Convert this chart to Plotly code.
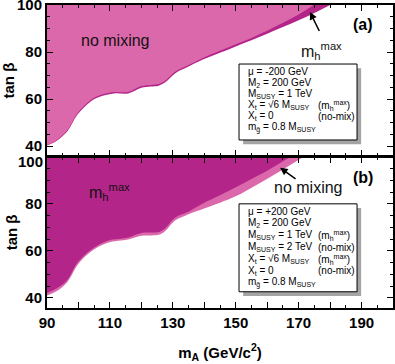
import plotly.graph_objects as go

# m_A (GeV) vs tan(beta) exclusion boundaries
# panel (a): mu = -200 GeV
a_nomix_mA = [90, 93, 96.5, 99.7, 103.9, 107, 111.3, 115.8, 120, 123, 125.5, 127.5,
              130.6, 135, 139.4, 145, 150, 155, 160, 165, 170, 174.8]
a_nomix_tb = [40.4, 42.5, 46.8, 54, 59.6, 61.7, 63, 63, 65.5, 66, 66.4, 67.7,
              71.5, 74.5, 77.4, 80.5, 83.3, 86, 89, 92.4, 96, 100]
a_mhmax_mA = [90, 93, 96.5, 99.7, 103.9, 107, 111.3, 115.8, 120, 123, 125.5, 127.5,
              130.6, 135, 139.4, 145, 150, 155, 160, 165, 170, 175, 180]
a_mhmax_tb = [40.2, 42.2, 46.3, 53.4, 59, 61.1, 62.4, 62.4, 64.8, 65.3, 65.7, 67,
              70.8, 73.8, 76.7, 79.7, 82.4, 85, 87.8, 90.6, 93.5, 96.6, 100]

# panel (b): mu = +200 GeV
b_mhmax_mA = [90, 93, 96.5, 99.7, 103.9, 109.3, 115.8, 120, 125.5, 127.5, 130.6,
              135, 139.4, 145, 150, 155, 160, 167.4]
b_mhmax_tb = [42.1, 44, 47.7, 55, 60.4, 64.3, 65.7, 67.6, 68, 69.5, 74,
              76.6, 80, 83.6, 87, 90.6, 94.1, 100]
b_nomix_mA = [90, 93, 96.5, 99.7, 103.9, 109.3, 115.8, 120, 125.5, 127.5, 130.6,
              135, 138.7, 145, 150, 157.7, 165, 171.6]
b_nomix_tb = [41, 42.8, 46.8, 54, 59.6, 63.4, 64.8, 66.4, 66.8, 68.3, 72.8,
              75.6, 77.4, 80.5, 83.2, 88.9, 94.6, 100]

x_ticks = list(range(90, 201, 10))
x_ticktext = [str(v) if (v - 90) % 20 == 0 and v < 200 else "" for v in x_ticks]
y_ticks = [40, 60, 80, 100]

box_a = ["μ = -200 GeV",
         "M<sub>2</sub> = 200 GeV",
         "M<sub>SUSY</sub> = 1 TeV",
         "X<sub>t</sub> = √6 M<sub>SUSY</sub>",
         "X<sub>t</sub> = 0",
         "m<sub>g̃</sub> = 0.8 M<sub>SUSY</sub>"]
box_a_right = ["", "", "", "(m<sub>h</sub><sup>max</sup>)", "(no-mix)", ""]
box_b = ["μ = +200 GeV",
         "M<sub>2</sub> = 200 GeV",
         "M<sub>SUSY</sub> = 1 TeV",
         "M<sub>SUSY</sub> = 2 TeV",
         "X<sub>t</sub> = √6 M<sub>SUSY</sub>",
         "X<sub>t</sub> = 0",
         "m<sub>g̃</sub> = 0.8 M<sub>SUSY</sub>"]
box_b_right = ["", "", "(m<sub>h</sub><sup>max</sup>)", "(no-mix)",
               "(m<sub>h</sub><sup>max</sup>)", "(no-mix)", ""]

LIGHT = "#DB68AA"
DARK = "#B4258A"
FONT = "Arial, Liberation Sans, sans-serif"
TOP = 100


def region(mA, tb, color, xa, ya):
    # area between the boundary (smoothed) and the top of the plot
    top = go.Scatter(x=[mA[0], mA[-1]], y=[TOP, TOP], mode="lines",
                     line=dict(width=0), hoverinfo="skip", showlegend=False,
                     xaxis=xa, yaxis=ya)
    edge = go.Scatter(x=mA, y=tb, mode="lines", fill="tonexty", fillcolor=color,
                      line=dict(width=0, shape="spline", smoothing=1),
                      hoverinfo="skip", showlegend=False, xaxis=xa, yaxis=ya)
    return [top, edge]


fig = go.Figure()
# panel a: m_h^max underneath, no-mixing on top
fig.add_traces(region(a_mhmax_mA, a_mhmax_tb, DARK, "x2", "y2"))
fig.add_traces(region(a_nomix_mA, a_nomix_tb, LIGHT, "x2", "y2"))
# panel b: no-mixing underneath, m_h^max on top
fig.add_traces(region(b_nomix_mA, b_nomix_tb, LIGHT, "x", "y"))
fig.add_traces(region(b_mhmax_mA, b_mhmax_tb, DARK, "x", "y"))

tickfont = dict(family=FONT, size=15, color="black", weight="bold")
xcommon = dict(range=[90, 200], tickvals=x_ticks, ticktext=x_ticktext,
               ticks="inside", ticklen=6, tickwidth=1, tickcolor="black",
               showline=True, linewidth=2, linecolor="black", mirror="ticks",
               minor=dict(tick0=90, dtick=5, ticks="inside", ticklen=3, tickcolor="black"),
               showgrid=False, zeroline=False, automargin=False, tickfont=tickfont)
ycommon = dict(range=[35.7, 100], tickvals=y_ticks,
               ticks="inside", ticklen=6, tickwidth=1, tickcolor="black",
               showline=True, linewidth=2, linecolor="black", mirror="ticks",
               minor=dict(tick0=40, dtick=5, ticks="inside", ticklen=3, tickcolor="black"),
               showgrid=False, zeroline=False, automargin=False, tickfont=tickfont,
               ticklabeloverflow="allow",
               title=dict(text="<b>tan β</b>", font=dict(family=FONT, size=15, color="black"),
                          standoff=4))

fig.update_layout(
    width=395, height=364,
    margin=dict(l=47, r=2, t=5, b=56),
    plot_bgcolor="white", paper_bgcolor="white",
    xaxis=dict(xcommon, anchor="y",
               title=dict(text="<b>m<sub>A</sub> (GeV/c<sup>2</sup>)</b>",
                          font=dict(family=FONT, size=15, color="black"), standoff=17)),
    xaxis2=dict(xcommon, anchor="y2", matches="x", showticklabels=False),
    # lower panel: the "100" label is drawn a little lower (see annotation below)
    yaxis=dict(ycommon, domain=[0, 0.499], anchor="x",
               ticktext=[str(v) if v < 100 else "" for v in y_ticks]),
    yaxis2=dict(ycommon, domain=[0.501, 1], anchor="x2"),
)
fig.add_annotation(x=0, y=y_ticks[-1], xref="paper", yref="y", text=str(y_ticks[-1]),
                   showarrow=False, xanchor="right", yanchor="middle",
                   xshift=-2, yshift=-5, font=tickfont)


# parameter boxes (white box with a soft shadow)
def px_to_m(px):
    return 90 + (px - 47) / 3.145


def add_box(xa, ya, top_tb, lines, right, line_step):
    x0, x1 = px_to_m(239), px_to_m(357)
    y1, y0 = top_tb, 42.6
    fig.add_shape(type="rect", xref=xa, yref=ya, x0=x0 + 1.3, x1=x1 + 1.3,
                  y0=y0 - 1.8, y1=y1 - 1.8, fillcolor="rgba(90,90,90,0.55)",
                  line=dict(width=0), layer="above")
    fig.add_shape(type="rect", xref=xa, yref=ya, x0=x0, x1=x1, y0=y0, y1=y1,
                  fillcolor="white", line=dict(color="black", width=1), layer="above")
    for i, (txt, rtxt) in enumerate(zip(lines, right)):
        yy = top_tb - 3.3 - i * line_step
        fig.add_annotation(x=px_to_m(246), y=yy, xref=xa, yref=ya, text=txt,
                           showarrow=False, xanchor="left", yanchor="middle",
                           font=dict(family=FONT, size=10, color="black"))
        if rtxt:
            fig.add_annotation(x=px_to_m(316), y=yy, xref=xa, yref=ya, text=rtxt,
                               showarrow=False, xanchor="left", yanchor="middle",
                               font=dict(family=FONT, size=10, color="black"))


add_box("x2", "y2", 74.9, box_a, box_a_right, 4.75)
add_box("x", "y", 80.0, box_b, box_b_right, 5.05)

big = dict(family=FONT, size=16, color="#111")
fig.add_annotation(x=111.6, y=84.7, xref="x2", yref="y2", text="no mixing",
                   showarrow=False, font=big, xanchor="center")
fig.add_annotation(x=177.4, y=80.5, xref="x2", yref="y2",
                   text="m<sub>h</sub><sup>max</sup>", showarrow=False, font=big,
                   xanchor="center")
fig.add_annotation(x=110, y=85.1, xref="x", yref="y",
                   text="m<sub>h</sub><sup>max</sup>", showarrow=False, font=big,
                   xanchor="center")
fig.add_annotation(x=173, y=86.8, xref="x", yref="y", text="no mixing",
                   showarrow=False, font=big, xanchor="center")
fig.add_annotation(x=190.5, y=91.5, xref="x2", yref="y2", text="<b>(a)</b>",
                   showarrow=False, font=dict(family=FONT, size=16, color="black"))
fig.add_annotation(x=190.5, y=91.1, xref="x", yref="y", text="<b>(b)</b>",
                   showarrow=False, font=dict(family=FONT, size=16, color="black"))

# arrows
fig.add_annotation(x=173.6, y=97, ax=176.8, ay=88.3, xref="x2", yref="y2",
                   axref="x2", ayref="y2", text="", showarrow=True,
                   arrowhead=2, arrowsize=1, arrowwidth=1.5, arrowcolor="black")
fig.add_annotation(x=164.1, y=95.3, ax=169.5, ay=90.2, xref="x", yref="y",
                   axref="x", ayref="y", text="", showarrow=True,
                   arrowhead=2, arrowsize=1, arrowwidth=1.5, arrowcolor="black")

# the page body has a default 8px margin; drop it so the figure sits at the corner
fig.write_html("out.html", config={"displayModeBar": False},
               post_script="document.body.style.margin='0';")
